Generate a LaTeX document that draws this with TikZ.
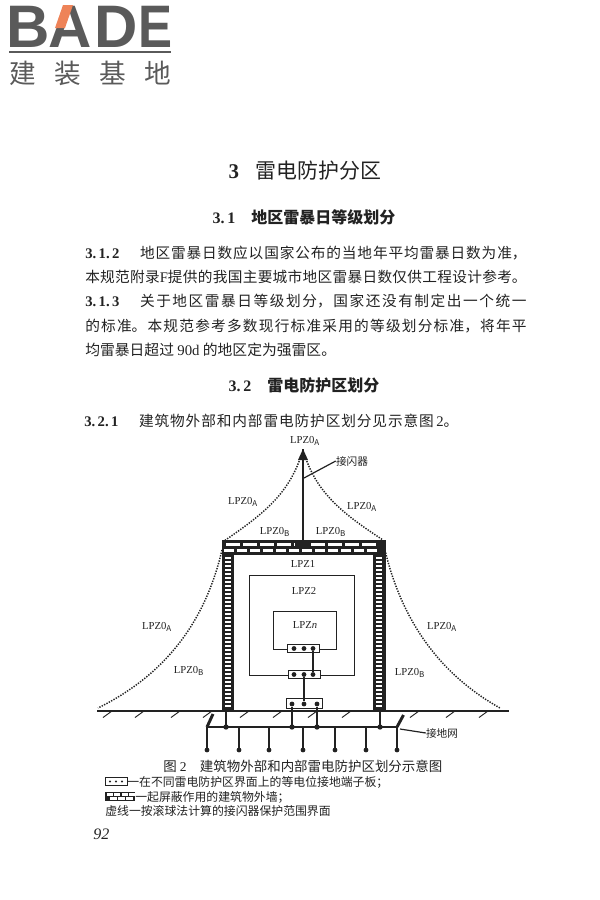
\documentclass[tikz,border=0pt]{standalone}
\usepackage{fontspec}
\setmainfont{Noto Sans CJK SC}
\newfontfamily\lat{Liberation Serif}
\newfontfamily\logofont{Liberation Sans}
\XeTeXlinebreaklocale "zh"
\XeTeXlinebreakskip=0pt plus 3pt
\usetikzlibrary{positioning}
\definecolor{inkgray}{HTML}{222222}
\definecolor{logogray}{HTML}{5A5A5A}
\definecolor{logoorange}{HTML}{EE8358}
\newcommand{\fs}[1]{\fontsize{#1}{#1}\selectfont}
\newcommand{\lpz}[1]{LPZ0$_{\mathrm{#1}}$}
\newcommand{\fullline}[2][331pt]{\parbox{#1}{\parindent=0pt\parfillskip=0pt #2\par}}
\tikzset{
  bodytext/.style={anchor=west,inner sep=0pt,text=inkgray,font=\fs{11}},
  headtext/.style={bodytext,anchor=center,font=\bfseries\fs{12}},
  lpzlabel/.style={inner sep=0pt,text=inkgray,font=\lat\fs{8}},
  smalltext/.style={bodytext,font=\fs{8.9}},
  tinytext/.style={bodytext,anchor=center,font=\fs{8}},
  logoletter/.style={inner sep=0pt,text=logogray,font=\logofont\bfseries\fs{45}},
  logochar/.style={inner sep=0pt,text=logogray,font=\fs{20}},
  zone/.style={draw=inkgray,line width=.7pt},
  board/.style={draw=inkgray,fill=white,line width=.7pt,inner sep=0pt},
  termdot/.style={circle,fill=inkgray,inner sep=0pt,minimum size=3.6pt},
  cable/.style={draw=inkgray,line width=2.2pt},
  sphere/.style={draw=inkgray,line width=1.1pt,dash pattern=on 1pt off 1pt},
  brick/.style={fill=white,draw=none},
  hatchline/.style={draw=inkgray,line width=.7pt},
  leader/.style={draw=inkgray,line width=.9pt},
}
\begin{document}
\begin{tikzpicture}[x=.75pt,y=-.75pt]
	\useasboundingbox (0,0) rectangle (600,900);
	% logo
	\node[logoletter] (logob) at (28,27) {B};
	\node[logoletter] (logoa) at (70,27) {A};
	\node[logoletter] (logod) at (116,27) {D};
	\node[logoletter,xscale=.85] (logoe) at (156,27) {E};
	\fill[logoorange] (63,5) -- (73,5) -- (65,28) -- (55,28) -- cycle;
	\fill[logogray] (8.5,50.5) rectangle (170.5,53);
	\node[logochar] (logoc1) at (23,73) {建};
	\node[logochar] (logoc2) at (68,73) {装};
	\node[logochar] (logoc3) at (113,73) {基};
	\node[logochar] (logoc4) at (158,73) {地};
	% page text
	\node[headtext,font=\fs{15.7}] (chaptertitle) at (305,171) {{\lat\bfseries 3}\hspace{.8em}雷电防护分区};
	\node[headtext] (head31) at (304,217) {{\lat 3.\,1}\hspace{1em}地区雷暴日等级划分};
	\node[bodytext] (line1) at (85,253) {\fullline{{\lat\bfseries 3.\,1.\,2}\hspace{1.4em}地区雷暴日数应以国家公布的当地年平均雷暴日数为准，}};
	\node[bodytext] (line2) at (85,277) {\fullline{本规范附录{\lat F}提供的我国主要城市地区雷暴日数仅供工程设计参考。}};
	\node[bodytext] (line3) at (85,301) {\fullline{{\lat\bfseries 3.\,1.\,3}\hspace{1.4em}关于地区雷暴日等级划分，国家还没有制定出一个统一}};
	\node[bodytext] (line4) at (85,326) {\fullline{的标准。本规范参考多数现行标准采用的等级划分标准，将年平}};
	\node[bodytext] (line5) at (85,350) {\fs{11.1}均雷暴日超过 {\lat 90d} 的地区定为强雷区。};
	\node[headtext] (head32) at (304,385) {{\lat 3.\,2}\hspace{1em}雷电防护区划分};
	\node[bodytext] (line6) at (84,421) {\fullline[280.5pt]{{\lat\bfseries 3.\,2.\,1}\hspace{1.4em}建筑物外部和内部雷电防护区划分见示意图{\lat\,2}。}};
	% protection zones
	\node[zone,minimum width=78.75pt,minimum height=75pt,inner sep=0pt] (zone2) at (301.5,625) {};
	\node[zone,minimum width=47.25pt,minimum height=28.5pt,inner sep=0pt] (zonen) at (304.5,630) {};
	% walls and roof
	\fill[inkgray] (221.5,541) rectangle (234,711);
	\fill[inkgray] (373,541) rectangle (385.5,711);
	\fill[inkgray] (221.5,539.5) rectangle (385.5,554.5);
	\foreach \y in {556.5,560.5,...,708} {
		\fill[brick] (225,\y) rectangle (231,\y+2.3);
		\fill[brick] (376,\y) rectangle (382,\y+2.3);
	}
	\foreach \x in {226,243,...,370} {
		\fill[brick] (\x,542.5) rectangle (\x+14,546);
	}
	\foreach \x in {224,237,...,375} {
		\fill[brick] (\x,548.5) rectangle (\x+10,551.5);
	}
	% air terminal
	\coordinate (masttop) at (303,449);
	\coordinate (mastfoot) at (303,541);
	\fill[inkgray] (masttop) -- (308,460) -- (298,460) -- cycle;
	\draw[cable] (masttop) -- (mastfoot);
	\node[board,draw=none,fill=inkgray,minimum width=12pt,minimum height=2.5pt] (roofclamp) at (303,545) {};
	\node[tinytext] (airlabel) at (352,461) {接闪器};
	\draw[leader] (airlabel.west) -- (304,478);
	% rolling sphere boundary
	\coordinate (apexl) at (301,456);
	\coordinate (apexr) at (305,456);
	\coordinate (roofl) at (224,541);
	\coordinate (roofr) at (383,540);
	\coordinate (groundl) at (98,708);
	\coordinate (groundr) at (500,708);
	\draw[sphere] (apexl) .. controls (288,495) and (262,515) .. (roofl);
	\draw[sphere] (apexr) .. controls (318,495) and (345,515) .. (roofr);
	\draw[sphere] (222,550) .. controls (208,610) and (175,670) .. (groundl);
	\draw[sphere] (385,550) .. controls (399,610) and (432,670) .. (groundr);
	% ground
	\coordinate (earthl) at (97,711);
	\coordinate (earthr) at (509,711);
	\draw[draw=inkgray,line width=1.2pt] (earthl) -- (earthr);
	\foreach \x in {103,135,171,203,240,273,308,342,410,446,479} {
		\draw[hatchline] (\x,717.5) -- (\x+9,711);
	}
	% earth-termination network
	\coordinate (barl) at (207,727);
	\coordinate (barr) at (397,727);
	\draw[cable] (barl) -- (barr);
	\draw[cable] (barl) -- (213,714);
	\draw[cable] (barr) -- (403.5,715);
	\foreach \x [count=\i] in {207,239,269,303,335,366,397} {
		\coordinate (rodtop\i) at (\x,727);
		\coordinate (rodfoot\i) at (\x,750);
		\draw[cable] (rodtop\i) -- (rodfoot\i);
		\fill[inkgray] (rodfoot\i) circle (1.8pt);
	}
	\draw[cable] (226,711) -- (226,727);
	\draw[cable] (380,711) -- (380,727);
	\fill[inkgray] (226,727) circle (2pt);
	\fill[inkgray] (380,727) circle (2pt);
	\node[tinytext] (netlabel) at (442,733) {接地网};
	\draw[leader] (netlabel.west) -- (400,729);
	% terminal boards
	\node[board,minimum width=27pt,minimum height=7pt] (boardb) at (304,703.5) {};
	\node[board,minimum width=24pt,minimum height=5.5pt] (boardm) at (304,674.5) {};
	\node[board,minimum width=23.5pt,minimum height=5.5pt] (boardt) at (303.5,648.5) {};
	\foreach \n/\x in {1/292,2/304,3/317} {
		\node[termdot] (dotb\n) at (\x,704) {};
	}
	\foreach \n/\x in {1/294,2/304,3/313} {
		\node[termdot] (dotm\n) at (\x,674.5) {};
		\node[termdot] (dott\n) at (\x,648.5) {};
	}
	\draw[cable] (dott3) -- (dotm3);
	\draw[cable] (dotm2) -- (dotb2);
	\draw[cable] (dotb1) -- (292,727);
	\draw[cable] (dotb3) -- (317,727);
	\fill[inkgray] (292,727) circle (2pt);
	\fill[inkgray] (317,727) circle (2pt);
	% zone labels
	\node[lpzlabel] (lpztop) at (305,441) {\lpz{A}};
	\node[lpzlabel] (lpzal) at (243,502) {\lpz{A}};
	\node[lpzlabel] (lpzar) at (362,507) {\lpz{A}};
	\node[lpzlabel] (lpzbl) at (275,532) {\lpz{B}};
	\node[lpzlabel] (lpzbr) at (331,532) {\lpz{B}};
	\node[lpzlabel] (lpzone) at (303,564) {LPZ1};
	\node[lpzlabel] (lpztwo) at (304,591) {LPZ2};
	\node[lpzlabel] (lpzn) at (305,625) {LPZ\textit{n}};
	\node[lpzlabel] (lpzfarl) at (157,627) {\lpz{A}};
	\node[lpzlabel] (lpzfarr) at (442,627) {\lpz{A}};
	\node[lpzlabel] (lpznearl) at (189,671) {\lpz{B}};
	\node[lpzlabel] (lpznearr) at (410,673) {\lpz{B}};
	% caption and legend
	\node[bodytext,font=\fs{10.1}] (caption) at (163,766) {图 {\lat 2}\hspace{1em}建筑物外部和内部雷电防护区划分示意图};
	\node[board,minimum width=16.5pt,minimum height=5.5pt] (legendboard) at (116,781.5) {};
	\foreach \x in {110,116,122} {
		\fill[inkgray] (\x,781.5) circle (.8pt);
	}
	\node[smalltext] (legend1) at (127,782) {一在不同雷电防护区界面上的等电位接地端子板；};
	\fill[inkgray] (105,792) rectangle (135,800.5);
	\foreach \x in {106.5,114,121.5,129} {
		\fill[brick] (\x,793) rectangle (\x+6,795.7);
	}
	\foreach \x in {110,118,126} {
		\fill[brick] (\x,797) rectangle (\x+6.5,799.5);
	}
	\node[smalltext] (legend2) at (135,797) {一起屏蔽作用的建筑物外墙；};
	\node[smalltext] (legend3) at (105,811) {虚线一按滚球法计算的接闪器保护范围界面};
	\node[bodytext,font=\lat\itshape\fs{12}] (pagenum) at (93,834) {92};
\end{tikzpicture}
\end{document}
